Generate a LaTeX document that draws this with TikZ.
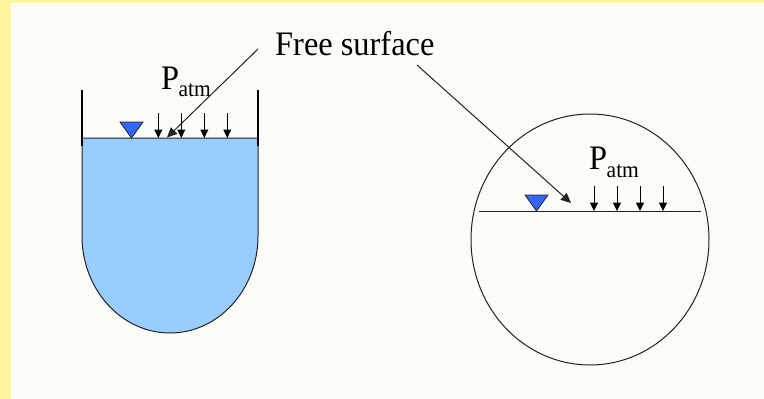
\documentclass[tikz,border=0pt]{standalone}
\usepackage{graphicx}
\usepackage{fontspec}
\setmainfont{Liberation Serif}
\usetikzlibrary{arrows.meta,shapes.geometric}
\definecolor{bgyellow}{HTML}{FFF59D}
\definecolor{panel}{HTML}{FBFCF8}
\definecolor{water}{HTML}{99CCFF}
\definecolor{marker}{HTML}{3366FF}
\definecolor{ink}{HTML}{222222}
\newcommand{\tallA}[1]{\scalebox{1}[1.06]{#1}}
\tikzset{
  x=1pt,y=-1pt,
  thin line/.style={draw=ink,line width=1pt},
  wall/.style={draw=black,line width=2.4pt},
  pressure/.style={draw=black,line width=1pt,-{Triangle[length=8.5pt,width=8pt]}},
  pointer/.style={draw=ink,line width=1pt,-{Triangle[length=10pt,width=9pt]}},
  level/.style={draw=ink,fill=marker,line width=0.8pt},
  bigtext/.style={inner sep=0pt,font=\fontsize{32.4}{36}\selectfont},
  subtext/.style={inner sep=0pt,font=\fontsize{21.5}{24}\selectfont},
}
\begin{document}
\begin{tikzpicture}
\useasboundingbox (0,0) rectangle (764,399);
\fill[bgyellow] (0,0) rectangle (764,399);
\fill[white] (11,3) rectangle (764,399);
\fill[panel] (12,4) rectangle (764,399);
% tank
\path[fill=water,thin line] (82,138) -- (82,236) arc[start angle=180,end angle=0,x radius=88,y radius=97] -- (258,138) -- cycle;
\draw[wall] (82,90) -- (82,146);
\draw[wall] (258,90) -- (258,146);
\draw[level] (120,122) -- (143,122) -- (131.5,138) -- cycle;
\coordinate (a1s) at (158.3,113); \coordinate (a1e) at (158.3,138);
\coordinate (a2s) at (181.3,113); \coordinate (a2e) at (181.3,138);
\coordinate (a3s) at (204.3,113); \coordinate (a3e) at (204.3,138);
\coordinate (a4s) at (227.3,113); \coordinate (a4e) at (227.3,138);
\draw[pressure] (a1s) -- (a1e);
\draw[pressure] (a2s) -- (a2e);
\draw[pressure] (a3s) -- (a3e);
\draw[pressure] (a4s) -- (a4e);
\node[bigtext,anchor=base west] (p1) at (161,89) {\tallA{P}};
\node[subtext,anchor=base west] (p1s) at (178.5,96) {\tallA{atm}};
% circle
\node[ellipse,draw=ink,line width=1pt,minimum width=238pt,minimum height=251pt,inner sep=0pt] (pipe) at (590,239.5) {};
\coordinate (sl) at (479,211); \coordinate (sr) at (701,211);
\draw[thin line] (sl) -- (sr);
\draw[level] (525,195) -- (548,195) -- (536.5,211) -- cycle;
\coordinate (b1s) at (594,186); \coordinate (b1e) at (594,211);
\coordinate (b2s) at (617,186); \coordinate (b2e) at (617,211);
\coordinate (b3s) at (640,186); \coordinate (b3e) at (640,211);
\coordinate (b4s) at (663,186); \coordinate (b4e) at (663,211);
\draw[pressure] (b1s) -- (b1e);
\draw[pressure] (b2s) -- (b2e);
\draw[pressure] (b3s) -- (b3e);
\draw[pressure] (b4s) -- (b4e);
\node[bigtext,anchor=base west] (p2) at (589,169) {\tallA{P}};
\node[subtext,anchor=base west] (p2s) at (606.5,177) {\tallA{atm}};
% label and pointers
\node[bigtext,anchor=base west] (fs) at (275,55) {\tallA{Free surface}};
\coordinate (f1s) at (258,49); \coordinate (f1e) at (167,137.5);
\coordinate (f2s) at (417,65); \coordinate (f2e) at (571,203);
\draw[pointer] (f1s) -- (f1e);
\draw[pointer] (f2s) -- (f2e);
\end{tikzpicture}
\end{document}
